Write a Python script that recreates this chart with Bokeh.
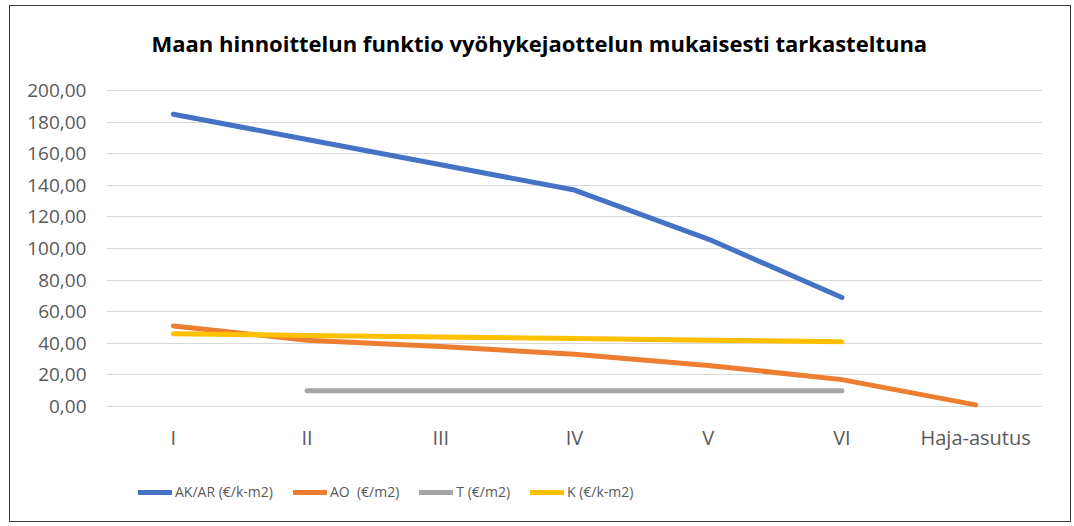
from bokeh.plotting import figure
from bokeh.models import FactorRange, Range1d, Legend, LegendItem, CustomJSTickFormatter, FixedTicker, Label
from bokeh.core.properties import value
from bokeh.embed import file_html
from bokeh.resources import INLINE

categories = ["I", "II", "III", "IV", "V", "VI", "Haja-asutus"]
ak_ar = [185, 169, 153, 137, 106, 69, None]
ao = [51, 42, 38, 33, 26, 17, 1]
t = [None, 10, 10, 10, 10, 10, None]
k = [46, 45, 44, 43, 42, 41, None]
series_names = ["AK/AR (€/k-m2)", "AO  (€/m2)", "T (€/m2)", "K (€/k-m2)"]
series_colors = ["#4472C4", "#ED7D31", "#A5A5A5", "#FFC000"]
y_ticks = [0, 20, 40, 60, 80, 100, 120, 140, 160, 180, 200]
title_text = "Maan hinnoittelun funktio vyöhykejaottelun mukaisesti tarkasteltuna"

FONT = "Open Sans"
# the frame also holds the title, category labels and legend; value axis spans 0..200
Y_MIN, Y_MAX = -69.0, 238.0
LABEL_Y = -19.6

p = figure(x_range=FactorRange(*categories), y_range=Range1d(Y_MIN, Y_MAX),
           frame_width=936, frame_height=485, output_backend="svg", toolbar_location=None,
           min_border_left=96, min_border_right=28, min_border_top=24, min_border_bottom=6)
p.styles = {"border": "1px solid #3a3a3a", "margin-left": "9px", "margin-top": "5px"}
p.outline_line_color = None

p.xgrid.grid_line_color = None
p.ygrid.grid_line_color = "#D9D9D9"
p.ygrid.grid_line_width = 1
p.ygrid.ticker = FixedTicker(ticks=y_ticks)

p.xaxis.visible = False
p.yaxis.ticker = FixedTicker(ticks=y_ticks)
p.yaxis.formatter = CustomJSTickFormatter(code="return tick.toFixed(2).replace('.', ',');")
ya = p.yaxis[0]
ya.axis_line_color = None
ya.major_tick_line_color = None
ya.minor_tick_line_color = None
ya.major_tick_out = 0
ya.major_tick_in = 0
ya.minor_tick_out = 0
ya.major_label_text_font = FONT
ya.major_label_text_color = "#595959"
ya.major_label_text_font_size = "19px"
ya.major_label_standoff = 20

# category labels
p.text(x=categories, y=[LABEL_Y] * len(categories), text=categories,
       text_font=value(FONT), text_font_size="20px", text_color="#595959",
       text_align="center", text_baseline="middle")

items = []
for name, vals, col in zip(series_names, [ak_ar, ao, t, k], series_colors):
    xs = [c for c, v in zip(categories, vals) if v is not None]
    ys = [v for v in vals if v is not None]
    r = p.line(xs, ys, line_color=col, line_width=5, line_cap="round", line_join="round")
    items.append(LegendItem(label=name, renderers=[r]))

title = Label(x=45, y=473, x_units="screen", y_units="screen", text=title_text,
              text_font=FONT, text_font_style="bold", text_font_size="22px",
              text_color="#000000", text_align="left", text_baseline="middle")
p.add_layout(title)

legend = Legend(items=items, orientation="horizontal", location=(32, 14),
                label_text_font=FONT, label_text_font_size="14px", label_text_color="#595959",
                glyph_width=34, glyph_height=10, spacing=20, label_standoff=3,
                border_line_color=None, background_fill_alpha=0, margin=0, padding=4)
p.add_layout(legend)

open("out.html", "w").write(file_html(p, INLINE))
